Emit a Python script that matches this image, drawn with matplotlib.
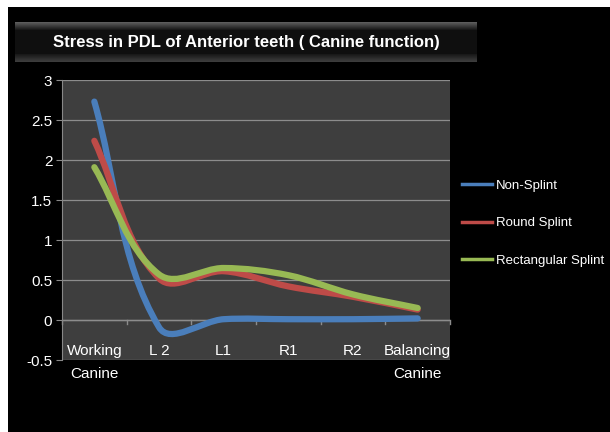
import matplotlib
matplotlib.use("Agg")
import matplotlib.pyplot as plt
import numpy as np
from matplotlib import font_manager
from matplotlib.lines import Line2D
from matplotlib.patches import PathPatch, Rectangle
from matplotlib.path import Path

installed = {f.name for f in font_manager.fontManager.ttflist}
narrow = [n for n in ("Liberation Sans Narrow", "Liberation Sans", "DejaVu Sans") if n in installed]
plt.rcParams["font.family"] = narrow + ["DejaVu Sans"]

categories = ["Working\nCanine", "L 2", "L1", "R1", "R2", "Balancing\nCanine"]
non_splint = [2.73, -0.09, 0.01, 0.01, 0.01, 0.02]
round_splint = [2.24, 0.52, 0.61, 0.42, 0.29, 0.13]
rect_splint = [1.91, 0.57, 0.65, 0.56, 0.32, 0.15]
series = {
    "Non-Splint": (non_splint, "#4a7ebb"),
    "Round Splint": (round_splint, "#be4b48"),
    "Rectangular Splint": (rect_splint, "#98b954"),
}
y_ticks = [-0.5, 0, 0.5, 1, 1.5, 2, 2.5, 3]
title = "Stress in PDL of Anterior teeth ( Canine function)"


def smooth_path(xs, ys, sx, sy, k=1 / 3):
    # bezier through the points; handle length follows the neighbouring
    # segment length on screen (sx, sy = pixels per data unit)
    pts = np.column_stack([np.asarray(xs) * sx, np.asarray(ys) * sy]).astype(float)
    n = len(pts)
    verts = [pts[0]]
    codes = [Path.MOVETO]
    for i in range(n - 1):
        p1, p2 = pts[i], pts[i + 1]
        seg = np.linalg.norm(p2 - p1)
        d1 = pts[min(i + 1, n - 1)] - pts[max(i - 1, 0)]
        d2 = pts[min(i + 2, n - 1)] - pts[i]
        d1 = d1 / (np.linalg.norm(d1) or 1)
        d2 = d2 / (np.linalg.norm(d2) or 1)
        verts += [p1 + d1 * seg * k, p2 - d2 * seg * k, p2]
        codes += [Path.CURVE4] * 3
    verts = np.array(verts) / [sx, sy]
    return Path(verts, codes)


W, H = 610, 432
fig = plt.figure(figsize=(W / 100, H / 100), dpi=100, facecolor="white")
fig.patches.append(Rectangle((8 / W, 0), 1, 1 - 7 / H, transform=fig.transFigure,
                             facecolor="black", edgecolor="none", zorder=-5))

# title banner with a soft vertical gradient
tax = fig.add_axes([15 / W, 1 - 62 / H, (477 - 15) / W, 40 / H])
grad = np.concatenate([np.linspace(0.36, 0.10, 8), np.full(24, 0.06), np.linspace(0.10, 0.24, 8)])
tax.imshow(grad[:, None], aspect="auto", cmap="gray", vmin=0, vmax=1, extent=[0, 1, 0, 1])
tax.set_axis_off()
tax.text(0.5, 0.5, title, color="white", fontsize=12, fontweight="bold",
         ha="center", va="center", transform=tax.transAxes)

ax_w, ax_h = 450 - 62, 280
ax = fig.add_axes([62 / W, 1 - 360 / H, ax_w / W, ax_h / H])
ax.set_facecolor("#3e3e3e")
ax.set_xlim(-0.5, len(categories) - 0.5)
ax.set_ylim(y_ticks[0], y_ticks[-1])

x = np.arange(len(categories))
sx = ax_w / len(categories)
sy = ax_h / (y_ticks[-1] - y_ticks[0])
for name, (values, color) in series.items():
    ax.add_patch(PathPatch(smooth_path(x, values, sx, sy), fill=False, edgecolor=color,
                           lw=4.5, capstyle="round", joinstyle="round", zorder=3))

ax.set_yticks(y_ticks)
ax.set_yticklabels([f"{t:g}" for t in y_ticks], color="white", fontsize=11)
ax.tick_params(axis="y", length=4, color="#888888", pad=3)
ax.grid(axis="y", color="#8c8c8c", lw=0.9)
ax.set_axisbelow(True)
for side in ("top", "right", "bottom"):
    ax.spines[side].set_visible(False)
ax.spines["left"].set_color("#888888")

# category axis crosses at zero with ticks between categories
ax.axhline(0, color="#8c8c8c", lw=1, zorder=1)
ax.set_xticks([])
for b in np.arange(-0.5, len(categories)):
    ax.plot([b, b], [0, -0.05], color="#8c8c8c", lw=1, zorder=1, clip_on=False)
for xi, label in zip(x, categories):
    ax.text(xi, -0.3, label, color="white", fontsize=11, ha="center", va="top",
            linespacing=1.8, clip_on=False)

handles = [Line2D([], [], color=c, lw=2.5) for _, c in series.values()]
leg = fig.legend(handles, list(series.keys()), loc="upper left",
                 bbox_to_anchor=(450 / W, 1 - 168 / H), frameon=False,
                 fontsize=9.5, labelcolor="white", handlelength=2.3,
                 handletextpad=0.25, labelspacing=1.9)

fig.savefig("out.png", dpi=100, facecolor="white")
